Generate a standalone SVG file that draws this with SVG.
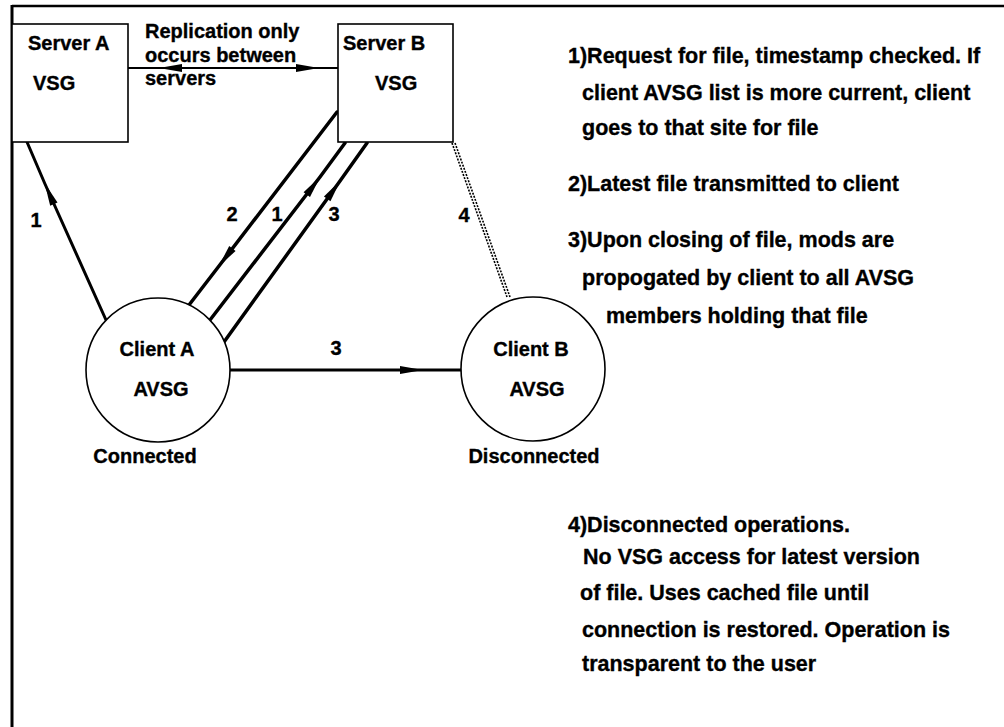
<svg xmlns="http://www.w3.org/2000/svg" width="1004" height="727" viewBox="0 0 1004 727">
  <style>
    text { font-family: "Liberation Sans", Arial, Helvetica, sans-serif; font-weight: bold; fill: #000; stroke: #000; stroke-width: 0.35; }
    .lbl { font-size: 20px; }
    .note { font-size: 21.5px; }
    .num { font-size: 20px; text-anchor: middle; }
    .mid { text-anchor: middle; }
    .box { fill: #fff; stroke: #000; stroke-width: 1.6; }
    .node { fill: #fff; stroke: #000; stroke-width: 1.6; }
    .wire { fill: none; stroke: #000; stroke-linecap: round; marker-mid: url(#mid-arrow); }
    .dots { fill: none; stroke: #000; stroke-width: 1.6; stroke-dasharray: 2 1.3; }
  </style>
  <defs>
    <!-- long narrow head placed at the middle vertex of each connector -->
    <marker id="mid-arrow" viewBox="-24 -5 26 10" refX="0" refY="0" markerWidth="26" markerHeight="10" markerUnits="userSpaceOnUse" orient="auto" overflow="visible">
      <path d="M1,0 L-22,-4 L-22,4 Z" fill="#000"/>
    </marker>
  </defs>

  <rect width="1004" height="727" fill="#fff"/>

  <!-- page frame -->
  <g id="frame" stroke="#000" fill="none">
    <line x1="12" y1="6" x2="1004" y2="6" stroke-width="2.5"/>
    <line x1="12" y1="5" x2="12" y2="727" stroke-width="3"/>
  </g>

  <!-- connectors -->
  <g id="connectors">
    <!-- replication between servers -->
    <path class="wire" stroke-width="2" d="M338,68 L160,68 L128,68"/>
    <path class="wire" stroke-width="2" d="M128,68 L318,68 L338,68"/>
    <!-- 1: Client A to Server A -->
    <path class="wire" stroke-width="3" d="M106,320 L45,184 L27,142"/>
    <!-- 2: Server B to Client A -->
    <path class="wire" stroke-width="3.5" d="M337,112 L219,266 L189,305"/>
    <!-- 1: Client A to Server B -->
    <path class="wire" stroke-width="3.5" d="M210,320 L320,177 L345,143"/>
    <!-- 3: Client A to Server B -->
    <path class="wire" stroke-width="3.5" d="M224,342 L340,181 L367,143"/>
    <!-- 3: Client A to Client B -->
    <path class="wire" stroke-width="3" d="M230,370 L422,370 L461,370"/>
    <!-- 4: disconnected link -->
    <line class="dots" x1="452" y1="143" x2="507" y2="297"/>
    <line class="dots" x1="455" y1="143" x2="510" y2="297"/>

    <text class="num" x="36" y="227">1</text>
    <text class="num" x="232" y="221">2</text>
    <text class="num" x="277" y="221">1</text>
    <text class="num" x="334" y="221">3</text>
    <text class="num" x="464" y="222">4</text>
    <text class="num" x="336" y="355">3</text>
    <text class="lbl" x="145" y="38">Replication only</text>
    <text class="lbl" x="145" y="62">occurs between</text>
    <text class="lbl" x="145" y="85">servers</text>
  </g>

  <g id="server-a">
    <rect class="box" x="12" y="24" width="116" height="118"/>
    <text class="lbl" x="28" y="50">Server A</text>
    <text class="lbl" x="33" y="90">VSG</text>
  </g>

  <g id="server-b">
    <rect class="box" x="338" y="24" width="115" height="118"/>
    <text class="lbl" x="343" y="50">Server B</text>
    <text class="lbl" x="375" y="90">VSG</text>
  </g>

  <g id="client-a">
    <circle class="node" cx="158" cy="370" r="72"/>
    <text class="lbl mid" x="157" y="356">Client A</text>
    <text class="lbl mid" x="161" y="396">AVSG</text>
    <text class="lbl mid" x="145" y="463">Connected</text>
  </g>

  <g id="client-b">
    <circle class="node" cx="533" cy="369" r="72"/>
    <text class="lbl mid" x="531" y="356">Client B</text>
    <text class="lbl mid" x="537" y="396">AVSG</text>
    <text class="lbl mid" x="534" y="463">Disconnected</text>
  </g>

  <!-- step notes -->
  <g id="notes">
    <text class="note" x="568" y="63">1)Request for file, timestamp checked. If</text>
    <text class="note" x="582" y="100">client AVSG list is more current, client</text>
    <text class="note" x="582" y="135">goes to that site for file</text>
    <text class="note" x="568" y="191">2)Latest file transmitted to client</text>
    <text class="note" x="568" y="247">3)Upon closing of file, mods are</text>
    <text class="note" x="582" y="285">propogated by client to all AVSG</text>
    <text class="note" x="606" y="323">members holding that file</text>
    <text class="note" x="568" y="532">4)Disconnected operations.</text>
    <text class="note" x="583" y="564">No VSG access for latest version</text>
    <text class="note" x="580" y="600">of file. Uses cached file until</text>
    <text class="note" x="582" y="637">connection is restored. Operation is</text>
    <text class="note" x="582" y="671">transparent to the user</text>
  </g>
</svg>
